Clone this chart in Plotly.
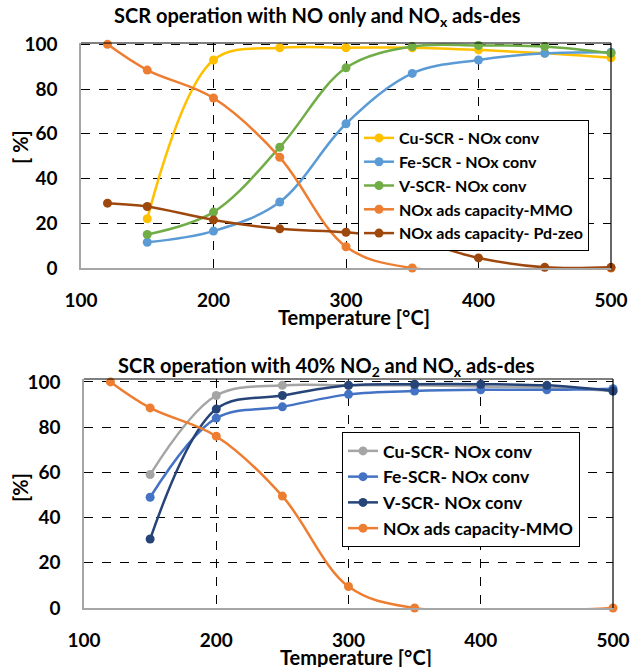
import plotly.graph_objects as go

# ---------------- data: top chart (NO only) ----------------
top_cu_x = [150, 200, 250, 300, 350, 400, 450, 500]
top_cu_y = [22, 93, 98.5, 98.5, 98.5, 97.5, 96, 94]
top_fe_x = [150, 200, 250, 300, 350, 400, 450, 500]
top_fe_y = [11.5, 16.5, 29.5, 64.5, 87, 93, 96, 96.5]
top_v_x = [150, 200, 250, 300, 350, 400, 450, 500]
top_v_y = [15, 25, 54, 89.5, 99, 99.5, 99, 96]
top_mmo_x = [120, 150, 200, 250, 300, 350, 500]
top_mmo_y = [100, 88.5, 76, 49.5, 9.5, 0, 0]
top_pd_x = [120, 150, 200, 250, 300, 350, 400, 450, 500]
top_pd_y = [29, 27.5, 21.5, 17.5, 16, 12.5, 4.5, 0.3, 0.3]

# ---------------- data: bottom chart (40% NO2) ----------------
bot_cu_x = [150, 200, 250, 300, 350, 400, 450, 500]
bot_cu_y = [59, 94, 98.5, 98.5, 98.5, 98, 97.5, 96]
bot_fe_x = [150, 200, 250, 300, 350, 400, 450, 500]
bot_fe_y = [49, 84, 89, 94.5, 96, 96.5, 96.5, 97]
bot_v_x = [150, 200, 250, 300, 350, 400, 450, 500]
bot_v_y = [30.5, 88, 94, 98.5, 99, 99, 98.5, 96]
bot_mmo_x = [120, 150, 200, 250, 300, 350, 500]
bot_mmo_y = [100, 88.5, 76, 49.5, 9.5, 0, 0]

x_ticks = [100, 200, 300, 400, 500]
y_ticks = [0, 20, 40, 60, 80, 100]

FONT = "Lato"
W, H = 631, 667

fig = go.Figure()


def add(x, y, name, color, xa, ya, legend):
    fig.add_trace(go.Scatter(
        x=x, y=y, name=name, mode="lines+markers",
        line=dict(color=color, width=2.5, shape="spline", smoothing=1.0),
        marker=dict(color=color, size=9), cliponaxis=False,
        xaxis=xa, yaxis=ya, legend=legend,
    ))


add(top_cu_x, top_cu_y, "Cu-SCR - NOx conv", "#FFC000", "x", "y", "legend")
add(top_fe_x, top_fe_y, "Fe-SCR - NOx conv", "#5B9BD5", "x", "y", "legend")
add(top_v_x, top_v_y, "V-SCR- NOx conv", "#70AD47", "x", "y", "legend")
add(top_mmo_x, top_mmo_y, "NOx ads capacity-MMO", "#ED7D31", "x", "y", "legend")
add(top_pd_x, top_pd_y, "NOx ads capacity- Pd-zeo", "#9E480E", "x", "y", "legend")

add(bot_cu_x, bot_cu_y, "Cu-SCR- NOx conv", "#A5A5A5", "x2", "y2", "legend2")
add(bot_fe_x, bot_fe_y, "Fe-SCR- NOx conv", "#4472C4", "x2", "y2", "legend2")
add(bot_v_x, bot_v_y, "V-SCR- NOx conv", "#264478", "x2", "y2", "legend2")
add(bot_mmo_x, bot_mmo_y, "NOx ads capacity-MMO", "#ED7D31", "x2", "y2", "legend2")

tickfont = dict(family=FONT, size=19, color="black", weight="bold")

xcommon = dict(range=[100, 500], tickvals=x_ticks, showgrid=True,
               gridcolor="black", griddash="dash", gridwidth=1,
               showline=True, linecolor="#A6A6A6", linewidth=1.5,
               zeroline=False, ticks="", tickfont=tickfont,
               ticklabelstandoff=14, automargin=False)
ycommon = dict(tickvals=y_ticks, showgrid=True,
               gridcolor="black", griddash="dash", gridwidth=1,
               showline=True, linecolor="#A6A6A6", linewidth=1.5,
               zeroline=False, ticks="", tickfont=tickfont,
               ticklabelstandoff=18, automargin=False)

# paper domains from pixel positions
top_x = [81 / W, 611 / W]
top_y = [1 - 268 / H, 1 - 43 / H]
bot_x = [84 / W, 613 / W]
bot_y = [1 - 608 / H, 1 - 379 / H]

fig.update_layout(
    width=W, height=H,
    margin=dict(l=0, r=0, t=0, b=0, autoexpand=False),
    paper_bgcolor="white", plot_bgcolor="white",
    font=dict(family=FONT, color="black"),
    xaxis=dict(domain=top_x, anchor="y", **xcommon),
    yaxis=dict(domain=top_y, anchor="x", range=[0, 100.6], **ycommon),
    xaxis2=dict(domain=bot_x, anchor="y2", **xcommon),
    yaxis2=dict(domain=bot_y, anchor="x2", range=[0, 101.3], **ycommon),
    legend=dict(x=358 / W, y=1 - 120 / H, xanchor="left", yanchor="top",
                bgcolor="white", bordercolor="black", borderwidth=1,
                font=dict(family=FONT, size=16, weight="bold"),
                tracegroupgap=0, itemwidth=30),
    legend2=dict(x=342 / W, y=1 - 432 / H, xanchor="left", yanchor="top",
                 bgcolor="white", bordercolor="black", borderwidth=1,
                 font=dict(family=FONT, size=17.5, weight="bold"),
                 tracegroupgap=0, itemwidth=30),
    showlegend=True,
)

# frame top & right (black)
for xr, yr in (("x domain", "y domain"), ("x2 domain", "y2 domain")):
    fig.add_shape(type="line", xref=xr, yref=yr, x0=0, x1=1, y0=1, y1=1,
                  line=dict(color="black", width=1.2))
    fig.add_shape(type="line", xref=xr, yref=yr, x0=1, x1=1, y0=0, y1=1,
                  line=dict(color="black", width=1.2))

ann_font = dict(family=FONT, size=20, color="black", weight="bold")
fig.add_annotation(text="SCR operation with NO only and NO<sub>x</sub> ads-des",
                   x=317 / W, y=1 - 17 / H, xref="paper", yref="paper",
                   showarrow=False, font=ann_font, xanchor="center", yanchor="middle")
fig.add_annotation(text="SCR operation with 40% NO<sub>2</sub> and NO<sub>x</sub> ads-des",
                   x=326 / W, y=1 - 366 / H, xref="paper", yref="paper",
                   showarrow=False, font=ann_font, xanchor="center", yanchor="middle")
fig.add_annotation(text="Temperature [°C]", x=354 / W, y=1 - 317 / H,
                   xref="paper", yref="paper", showarrow=False, font=ann_font,
                   xanchor="center", yanchor="middle")
fig.add_annotation(text="Temperature [°C]", x=356 / W, y=1 - 657 / H,
                   xref="paper", yref="paper", showarrow=False, font=ann_font,
                   xanchor="center", yanchor="middle")
fig.add_annotation(text="[ %]", x=20 / W, y=1 - 147 / H, xref="paper", yref="paper",
                   showarrow=False, font=ann_font, textangle=-90,
                   xanchor="center", yanchor="middle")
fig.add_annotation(text="[%]", x=20 / W, y=1 - 488 / H, xref="paper", yref="paper",
                   showarrow=False, font=ann_font, textangle=-90,
                   xanchor="center", yanchor="middle")

fig.write_html("out.html", config={"displayModeBar": False},
               post_script="document.body.style.margin='0';document.body.style.padding='0';")
